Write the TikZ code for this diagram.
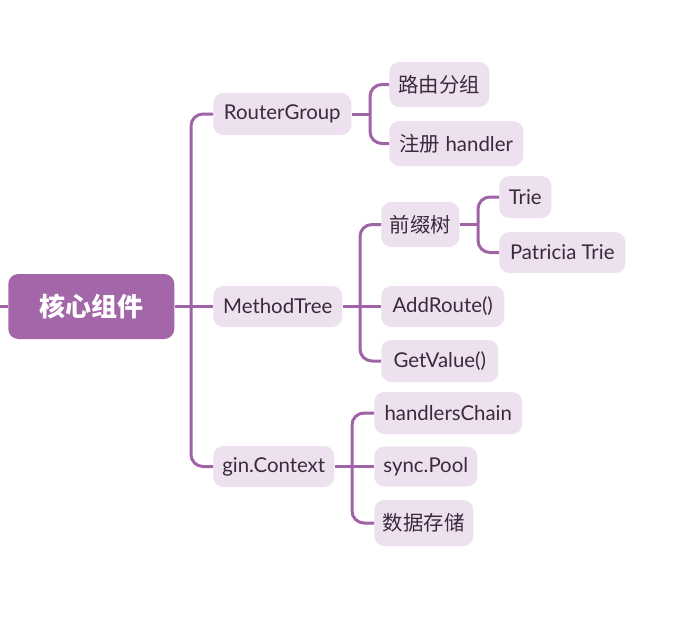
\documentclass[tikz,border=0pt]{standalone}
\usepackage{fontspec}
\setmainfont{Lato}
\newfontfamily\cjk{Noto Sans CJK SC}
\newlength\pxu
\setlength\pxu{0.75pt}
\definecolor{lineC}{HTML}{A063A8}
\definecolor{rootC}{HTML}{A366A8}
\definecolor{boxC}{HTML}{EEE1EF}
\definecolor{txtC}{HTML}{3A2A3C}
\begin{document}
\begin{tikzpicture}[x=0.75pt,y=-0.75pt,
  conn/.style={draw=lineC,line width=3\pxu,rounded corners=12\pxu},
  rootbox/.style={fill=rootC,rounded corners=10\pxu,inner sep=0pt,anchor=west,
    text=white,font=\cjk\bfseries\fontsize{19.5}{23}\selectfont},
  leaf/.style={fill=boxC,rounded corners=10\pxu,inner sep=0pt,anchor=west,
    text=txtC,font=\fontsize{15.3}{18}\selectfont}]
\useasboundingbox (0,0) rectangle (676,622);

\node[rootbox,minimum width=166\pxu,minimum height=65\pxu] (root) at (8,306.5) {核心组件};
\coordinate (lstub) at (0,306.5);

\node[leaf,minimum width=138\pxu,minimum height=42\pxu] (rg) at (213,114) {RouterGroup};
\node[leaf,minimum width=129\pxu,minimum height=41\pxu] (mt) at (213,306.5) {MethodTree};
\node[leaf,minimum width=121\pxu,minimum height=41\pxu] (gc) at (213,466.5) {gin.Context};

\node[leaf,minimum width=100\pxu,minimum height=45\pxu] (lu) at (389,84.5) {\cjk 路由分组};
\node[leaf,minimum width=134\pxu,minimum height=45\pxu] (zc) at (389,143.5) {{\cjk 注册} handler};

\node[leaf,minimum width=78\pxu,minimum height=45\pxu] (qz) at (381,224.5) {\cjk 前缀树};
\node[leaf,minimum width=123\pxu,minimum height=41\pxu] (ar) at (381,306.5) {AddRoute()};
\node[leaf,minimum width=117\pxu,minimum height=42\pxu] (gv) at (381,361) {GetValue()};

\node[leaf,minimum width=52\pxu,minimum height=42\pxu] (tr) at (499,197) {Trie};
\node[leaf,minimum width=126\pxu,minimum height=41\pxu] (pt) at (499,252.5) {Patricia Trie};

\node[leaf,minimum width=148\pxu,minimum height=42\pxu] (hc) at (374,413) {handlersChain};
\node[leaf,minimum width=103\pxu,minimum height=40\pxu] (sp) at (374,466.5) {sync.Pool};
\node[leaf,minimum width=99\pxu,minimum height=46\pxu] (sj) at (374,523) {\cjk 数据存储};

% root
\draw[conn] (lstub) -- (root.west);
\draw[conn] (root.east) -- (mt.west);
\draw[conn] (rg.west) -- (191,114) -- (191,466.5) -- (gc.west);

% RouterGroup
\draw[conn] (rg.east) -- (370,114);
\draw[conn] (lu.west) -- (370,84.5) -- (370,143.5) -- (zc.west);

% MethodTree
\draw[conn] (mt.east) -- (ar.west);
\draw[conn] (qz.west) -- (360,224.5) -- (360,361) -- (gv.west);

% prefix tree
\draw[conn] (qz.east) -- (478,224.5);
\draw[conn] (tr.west) -- (478,197) -- (478,252.5) -- (pt.west);

% gin.Context
\draw[conn] (gc.east) -- (sp.west);
\draw[conn] (hc.west) -- (352,413) -- (352,523) -- (sj.west);
\end{tikzpicture}
\end{document}
